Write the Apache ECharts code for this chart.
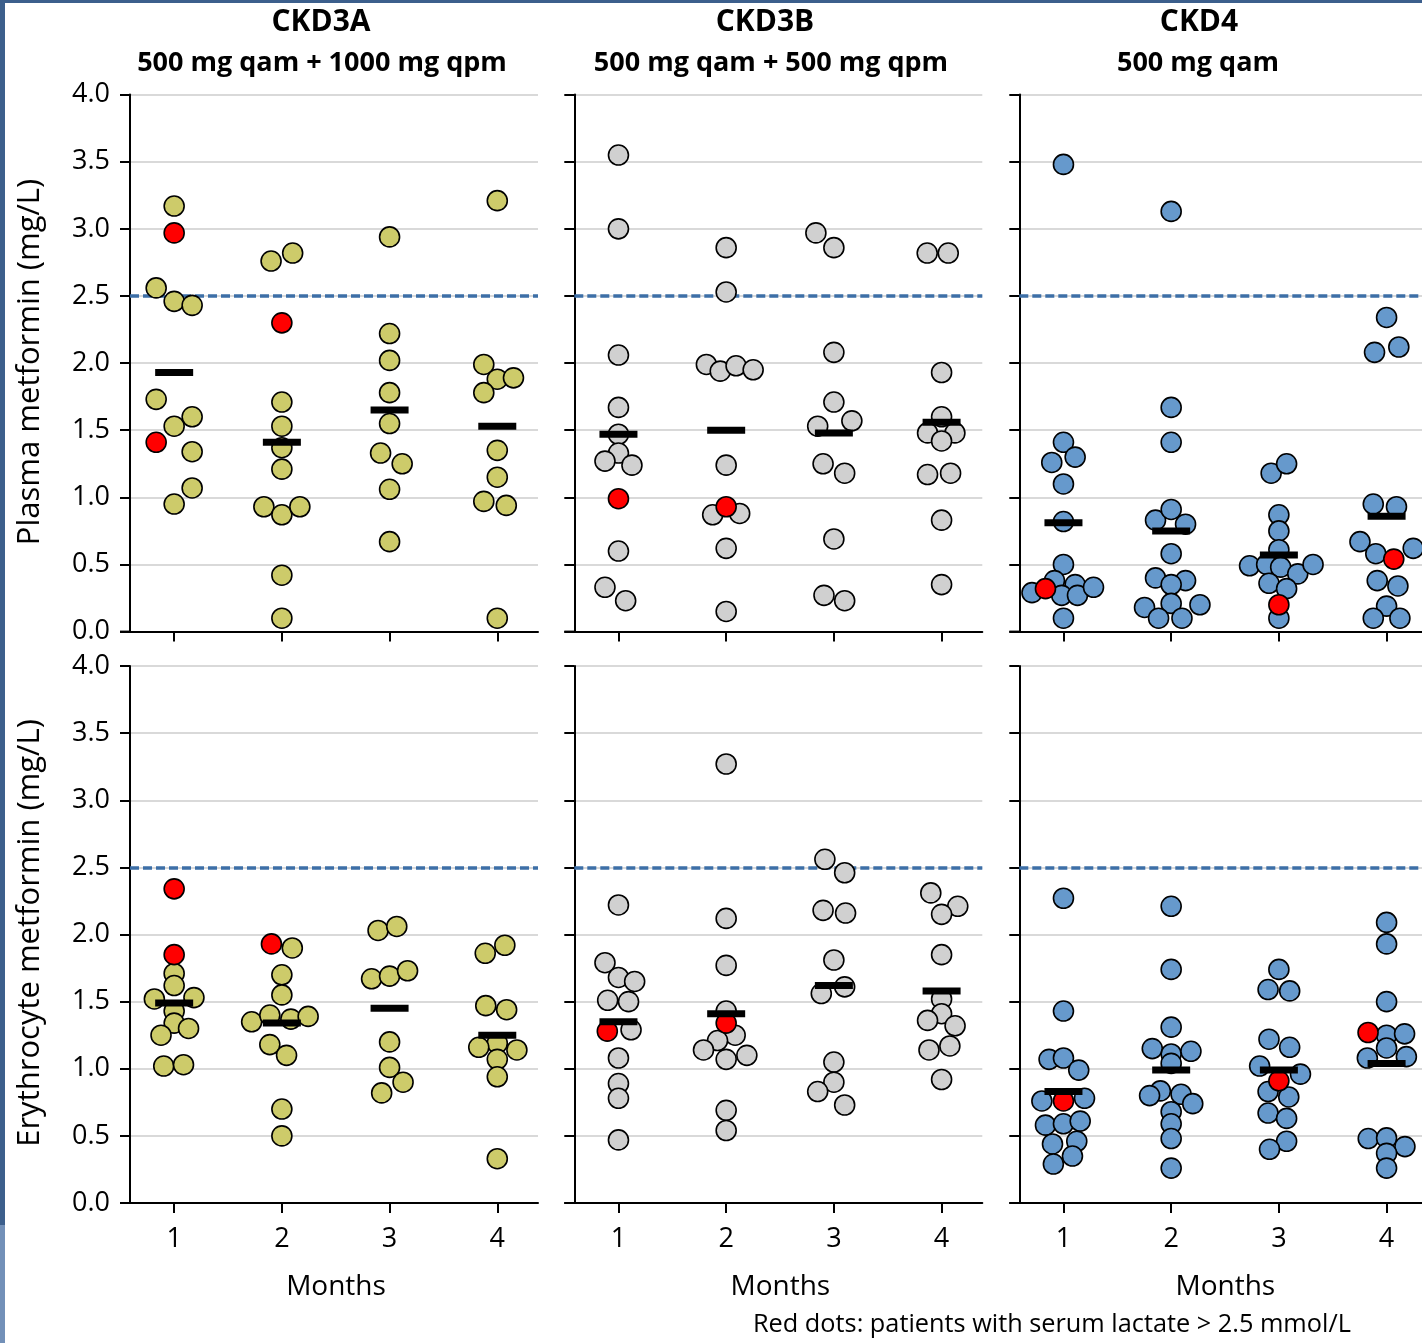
<!DOCTYPE html>
<html>
<head>
<meta charset="utf-8">
<script src="https://cdn.jsdelivr.net/npm/echarts@6/dist/echarts.min.js"></script>
<style>
html,body{margin:0;padding:0;background:#fff;}
#chart{width:1422px;height:1343px;}
</style>
</head>
<body>
<div id="chart"></div>
<script>
// ---------- DATA ----------
// Points: [month, value, horizontal jitter (in dot widths)]
const months = [1, 2, 3, 4];
const yTicks = [0, 0.5, 1, 1.5, 2, 2.5, 3, 3.5, 4];
const threshold = 2.5;
const groups = ['CKD3A', 'CKD3B', 'CKD4'];
const doses = ['500 mg qam + 1000 mg qpm', '500 mg qam + 500 mg qpm', '500 mg qam'];
const rowNames = ['Plasma metformin (mg/L)', 'Erythrocyte metformin (mg/L)'];

const plasma3A = [[1,3.17,0],[1,2.56,-1],[1,2.46,0],[1,2.43,1],[1,1.73,-1],[1,1.53,0],[1,1.60,1],[1,1.34,1],[1,1.07,1],[1,0.95,0],
  [2,2.76,-0.6],[2,2.82,0.6],[2,1.71,0],[2,1.53,0],[2,1.37,0],[2,1.21,0],[2,0.93,-1],[2,0.87,0],[2,0.93,1],[2,0.42,0],[2,0.10,0],
  [3,2.94,0],[3,2.22,0],[3,2.02,0],[3,1.78,0],[3,1.55,0],[3,1.33,-0.5],[3,1.25,0.7],[3,1.06,0],[3,0.67,0],
  [4,3.21,0],[4,1.99,-0.75],[4,1.88,0],[4,1.89,0.9],[4,1.78,-0.75],[4,1.35,0],[4,1.15,0],[4,0.97,-0.75],[4,0.94,0.5],[4,0.10,0]];
const plasma3A_red = [[1,2.97,0],[1,1.41,-1],[2,2.30,0]];
const plasma3A_mean = [1.93, 1.41, 1.65, 1.53];

const plasma3B = [[1,3.55,0],[1,3.00,0],[1,2.06,0],[1,1.67,0],[1,1.47,0],[1,1.33,0],[1,1.27,-0.75],[1,1.24,0.75],[1,0.60,0],[1,0.33,-0.75],[1,0.23,0.4],
  [2,2.86,0],[2,2.53,0],[2,1.99,-1.1],[2,1.94,-0.33],[2,1.98,0.55],[2,1.95,1.5],[2,1.24,0],[2,0.87,-0.75],[2,0.88,0.75],[2,0.62,0],[2,0.15,0],
  [3,2.97,-1],[3,2.86,0],[3,2.08,0],[3,1.71,0],[3,1.53,-0.9],[3,1.57,1],[3,1.25,-0.6],[3,1.18,0.6],[3,0.69,0],[3,0.27,-0.55],[3,0.23,0.6],
  [4,2.82,-0.8],[4,2.82,0.37],[4,1.93,0],[4,1.60,0],[4,1.48,-0.78],[4,1.48,0.74],[4,1.42,0],[4,1.17,-0.78],[4,1.18,0.5],[4,0.83,0],[4,0.35,0]];
const plasma3B_red = [[1,0.99,0],[2,0.93,0]];
const plasma3B_mean = [1.47, 1.50, 1.48, 1.56];

const plasma4 = [[1,3.48,0],[1,1.41,0],[1,1.26,-0.65],[1,1.30,0.65],[1,1.10,0],[1,0.82,0],[1,0.50,0],[1,0.38,-0.5],[1,0.29,-1.75],[1,0.35,0.65],[1,0.27,-0.1],[1,0.27,0.78],[1,0.33,1.67],[1,0.10,0],
  [2,3.13,0],[2,1.67,0],[2,1.41,0],[2,0.83,-0.87],[2,0.91,0],[2,0.80,0.8],[2,0.58,0],[2,0.40,-0.87],[2,0.38,0.8],[2,0.35,0],[2,0.18,-1.48],[2,0.21,0],[2,0.20,1.6],[2,0.10,-0.7],[2,0.10,0.6],
  [3,1.18,-0.43],[3,1.25,0.43],[3,0.87,0],[3,0.75,0],[3,0.61,0],[3,0.49,-1.63],[3,0.50,-0.68],[3,0.48,0.1],[3,0.43,1.05],[3,0.50,1.9],[3,0.36,-0.55],[3,0.32,0.43],[3,0.10,0],
  [4,2.34,0],[4,2.08,-0.67],[4,2.12,0.68],[4,0.95,-0.74],[4,0.93,0.55],[4,0.67,-1.48],[4,0.58,-0.6],[4,0.62,1.48],[4,0.38,-0.52],[4,0.34,0.63],[4,0.19,0],[4,0.10,-0.74],[4,0.10,0.74]];
const plasma4_red = [[1,0.32,-1],[3,0.20,0],[4,0.54,0.4]];
const plasma4_mean = [0.81, 0.75, 0.57, 0.86];

const ery3A = [[1,1.71,0],[1,1.62,0],[1,1.52,-1.1],[1,1.53,1.1],[1,1.43,0],[1,1.34,0],[1,1.30,0.8],[1,1.25,-0.73],[1,1.02,-0.58],[1,1.03,0.52],
  [2,1.90,0.58],[2,1.70,0],[2,1.55,0],[2,1.35,-1.68],[2,1.40,-0.67],[2,1.37,0.5],[2,1.39,1.46],[2,1.18,-0.67],[2,1.10,0.26],[2,0.70,0],[2,0.50,0],
  [3,2.03,-0.64],[3,2.06,0.4],[3,1.67,-1],[3,1.69,0],[3,1.73,1],[3,1.20,0],[3,1.01,0],[3,0.90,0.75],[3,0.82,-0.44],
  [4,1.86,-0.67],[4,1.92,0.42],[4,1.47,-0.64],[4,1.44,0.52],[4,1.19,0],[4,1.16,-1.03],[4,1.14,1.09],[4,1.07,0],[4,0.94,0],[4,0.33,0]];
const ery3A_red = [[1,2.34,0],[1,1.85,0],[2,1.93,-0.58]];
const ery3A_mean = [1.49, 1.34, 1.45, 1.25];

const ery3B = [[1,2.22,0],[1,1.79,-0.75],[1,1.68,0],[1,1.65,0.9],[1,1.51,-0.6],[1,1.50,0.56],[1,1.29,0.7],[1,1.08,0],[1,0.89,0],[1,0.78,0],[1,0.47,0],
  [2,3.27,0],[2,2.12,0],[2,1.77,0],[2,1.43,0],[2,1.25,0.5],[2,1.21,-0.48],[2,1.14,-1.26],[2,1.10,1.15],[2,1.07,0],[2,0.69,0],[2,0.54,0],
  [3,2.56,-0.5],[3,2.46,0.6],[3,2.18,-0.6],[3,2.16,0.65],[3,1.81,0],[3,1.61,0.6],[3,1.56,-0.7],[3,1.05,0],[3,0.90,0],[3,0.83,-0.9],[3,0.73,0.6],
  [4,2.31,-0.6],[4,2.21,0.9],[4,2.15,0],[4,1.85,0],[4,1.52,0],[4,1.41,0],[4,1.36,-0.78],[4,1.32,0.75],[4,1.17,0.46],[4,1.14,-0.7],[4,0.92,0]];
const ery3B_red = [[1,1.28,-0.62],[2,1.34,0]];
const ery3B_mean = [1.35, 1.41, 1.62, 1.58];

const ery4 = [[1,2.27,0],[1,1.43,0],[1,1.07,-0.8],[1,1.08,0],[1,0.99,0.85],[1,0.76,-1.2],[1,0.78,1.17],[1,0.58,-1],[1,0.59,0],[1,0.61,0.93],[1,0.44,-0.61],[1,0.46,0.74],[1,0.29,-0.56],[1,0.35,0.5],
  [2,2.21,0],[2,1.74,0],[2,1.31,0],[2,1.15,-1.05],[2,1.11,0],[2,1.13,1.1],[2,1.04,0],[2,0.835,-0.6],[2,0.80,-1.2],[2,0.81,0.55],[2,0.74,1.2],[2,0.68,0],[2,0.59,0],[2,0.48,0],[2,0.26,0],
  [3,1.74,0],[3,1.59,-0.6],[3,1.58,0.6],[3,1.22,-0.55],[3,1.16,0.6],[3,1.02,-1.07],[3,0.96,1.2],[3,0.83,-0.6],[3,0.79,0.55],[3,0.67,-0.6],[3,0.63,0.43],[3,0.46,0.43],[3,0.40,-0.52],
  [4,2.09,0],[4,1.93,0],[4,1.50,0],[4,1.25,0],[4,1.26,1.0],[4,1.155,0],[4,1.08,-1.07],[4,1.09,1.1],[4,0.48,-1.02],[4,0.485,0],[4,0.42,1.02],[4,0.37,0],[4,0.26,0]];
const ery4_red = [[1,0.76,0],[3,0.91,0],[4,1.27,-1.03]];
const ery4_mean = [0.83, 0.99, 0.99, 1.04];

// ---------- LAYOUT / STYLE ----------
const FONT = "'Open Sans', 'DejaVu Sans', sans-serif";
const fills = ['#cdcb6a', '#d0d0d0', '#6699cc'];
const RED = '#ff0000';
const JIT = 0.167; // months per dot width
const CW = 1422;
const gridLefts = [130, 574.3, 1019.3];
const gridTops = [94.6, 666];
const GW = 408, GH = 537;
const X_MIN = 0.59, X_MAX = 4.378;
const PX_PER_UNIT = GW / (X_MAX - X_MIN);

const panels = [
  [[plasma3A, plasma3A_red, plasma3A_mean], [plasma3B, plasma3B_red, plasma3B_mean], [plasma4, plasma4_red, plasma4_mean]],
  [[ery3A, ery3A_red, ery3A_mean], [ery3B, ery3B_red, ery3B_mean], [ery4, ery4_red, ery4_mean]]
];

const grid = [], xAxis = [], yAxis = [], series = [];
const graphic = [];
let idx = 0;
for (let r = 0; r < 2; r++) {
  for (let c = 0; c < 3; c++) {
    // the last column is cut by the right edge of the picture
    const w = Math.min(GW, CW - gridLefts[c]);
    const xMax = X_MIN + w / PX_PER_UNIT;
    grid.push({left: gridLefts[c], top: gridTops[r], width: w, height: GH, containLabel: false});
    xAxis.push({
      type: 'value', gridIndex: idx, min: X_MIN, max: xMax,
      axisLine: {show: true, onZero: false, lineStyle: {color: '#000', width: 2}},
      axisTick: {show: true, customValues: months, length: 10, lineStyle: {color: '#000', width: 2}},
      axisLabel: {show: r === 1, customValues: months, fontSize: 27, color: '#000', margin: 23, fontFamily: FONT},
      splitLine: {show: false}
    });
    yAxis.push({
      type: 'value', gridIndex: idx, min: 0, max: 4, interval: 0.5,
      axisLine: {show: true, onZero: false, lineStyle: {color: '#000', width: 2}},
      axisTick: {show: true, length: 10, lineStyle: {color: '#000', width: 2}},
      axisLabel: {show: c === 0, fontSize: 27, color: '#000', margin: 20, fontFamily: FONT,
        formatter: v => v.toFixed(1)},
      splitLine: {show: true, lineStyle: {color: '#d9d9d9', width: 2}}
    });
    // x-axis line continues under the y tick marks (Excel style)
    graphic.push({type: 'line', shape: {x1: gridLefts[c] - 10, y1: gridTops[r] + GH, x2: gridLefts[c], y2: gridTops[r] + GH},
      style: {stroke: '#000', lineWidth: 2}, z: 10});
    const [pts, red, mean] = panels[r][c];
    series.push({
      type: 'scatter', xAxisIndex: idx, yAxisIndex: idx, z: 3,
      symbol: 'circle', symbolSize: 20,
      itemStyle: {color: fills[c], borderColor: '#000', borderWidth: 1.6, opacity: 1},
      data: pts.map(p => [p[0] + p[2] * JIT, p[1]]),
      markLine: {
        silent: true, symbol: ['none', 'none'], label: {show: false}, z: 2,
        lineStyle: {color: '#3d6fa7', width: 3.5, type: [9, 4]},
        data: [{yAxis: threshold}]
      }
    });
    series.push({
      type: 'scatter', xAxisIndex: idx, yAxisIndex: idx, z: 4,
      symbol: 'circle', symbolSize: 20,
      itemStyle: {color: RED, borderColor: '#000', borderWidth: 1.6, opacity: 1},
      data: red.map(p => [p[0] + p[2] * JIT, p[1]])
    });
    series.push({
      type: 'scatter', xAxisIndex: idx, yAxisIndex: idx, z: 5,
      symbol: 'rect', symbolSize: [38, 7],
      itemStyle: {color: '#000', opacity: 1},
      data: mean.map((m, i) => [months[i], m])
    });
    idx++;
  }
}

graphic.push(
  {type: 'rect', shape: {x: 0, y: 0, width: 5, height: 1225}, style: {fill: '#3c5f8c'}},
  {type: 'rect', shape: {x: 0, y: 1225, width: 5, height: 118}, style: {fill: '#7290b8'}},
  {type: 'rect', shape: {x: 0, y: 0, width: 1422, height: 3}, style: {fill: '#3c5f8c'}}
);
const titleCenters = [321, 765, 1199];
const doseCenters = [322, 771, 1198];
for (let c = 0; c < 3; c++) {
  graphic.push({type: 'text', x: titleCenters[c], y: 22, style: {text: groups[c], fontFamily: FONT, fontWeight: 'bold', fontSize: 30, fill: '#000', textAlign: 'center', textVerticalAlign: 'middle'}});
  graphic.push({type: 'text', x: doseCenters[c], y: 63, style: {text: doses[c], fontFamily: FONT, fontWeight: 'bold', fontSize: 27, fill: '#000', textAlign: 'center', textVerticalAlign: 'middle'}});
  graphic.push({type: 'text', x: gridLefts[c] + GW / 2 + 2, y: 1287, style: {text: 'Months', fontFamily: FONT, fontSize: 28, fill: '#000', textAlign: 'center', textVerticalAlign: 'middle'}});
}
const nameCenters = [362, 933];
for (let r = 0; r < 2; r++) {
  graphic.push({type: 'text', x: 30, y: nameCenters[r], rotation: Math.PI / 2,
    style: {text: rowNames[r], fontFamily: FONT, fontSize: 31, fill: '#000', textAlign: 'center', textVerticalAlign: 'middle'}});
}
graphic.push({type: 'text', x: 753, y: 1325, style: {text: 'Red dots: patients with serum lactate > 2.5 mmol/L', fontFamily: FONT, fontSize: 25.3, fill: '#000', textAlign: 'left', textVerticalAlign: 'middle'}});

const chart = echarts.init(document.getElementById('chart'), null, {renderer: 'canvas'});
chart.setOption({
  animation: false,
  backgroundColor: '#fff',
  grid, xAxis, yAxis, series, graphic
});
</script>
</body>
</html>
